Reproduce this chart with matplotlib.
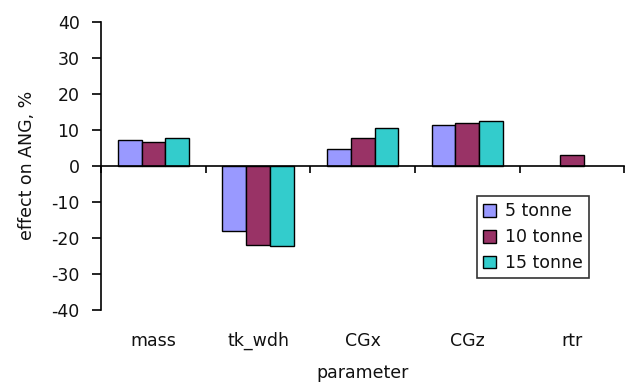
import numpy as np
import matplotlib
matplotlib.use("Agg")
import matplotlib.pyplot as plt
import matplotlib.transforms as mtransforms

# effect of each parameter on ANG, % (per truck mass); nan = no bar
params = ["mass", "tk_wdh", "CGx", "CGz", "rtr"]
series_names = ["5 tonne", "10 tonne", "15 tonne"]
t5 = [7.1, -18.2, 4.6, 11.4, np.nan]
t10 = [6.7, -22.1, 7.8, 11.8, 3.1]
t15 = [7.6, -22.4, 10.5, 12.5, np.nan]
colors = ["#9999FF", "#993366", "#33CCCC"]

plt.rcParams["font.family"] = ["DejaVu Sans"]
plt.rcParams["font.size"] = 12.5
plt.rcParams["axes.unicode_minus"] = False
plt.rcParams["text.color"] = "#111111"

fig = plt.figure(figsize=(6.28, 3.83), dpi=100)
ax = fig.add_axes([0.161, 0.191, 0.833, 0.752])

x = np.arange(len(params))
w = 0.227
for i, (vals, name, c) in enumerate(zip([t5, t10, t15], series_names, colors)):
    ax.bar(x + (i - 1) * w, vals, w, color=c, edgecolor="black", linewidth=1.0,
           label=name)

ax.set_xlim(-0.5, len(params) - 0.5)
ax.set_ylim(-40, 40)
ax.set_yticks(np.arange(-40, 41, 10))

# category axis sits on the zero line, ticks at group boundaries
ax.spines["bottom"].set_position(("data", 0))
ax.spines["top"].set_visible(False)
ax.spines["right"].set_visible(False)
ax.spines["left"].set_linewidth(1.2)
ax.spines["bottom"].set_linewidth(1.2)
ax.set_xticks(np.arange(-0.5, len(params), 1.0))
ax.set_xticklabels([])
ax.tick_params(axis="x", direction="out", length=5, width=1.2)
ax.tick_params(axis="y", direction="out", length=6.5, width=1.2, pad=9,
               labelcolor="#111111")

trans = mtransforms.blended_transform_factory(ax.transData, ax.transAxes)
for xi, p in zip(x, params):
    ax.text(xi, -0.108, p, transform=trans, ha="center", va="center")
ax.text(0.5, -0.218, "parameter", transform=ax.transAxes, ha="center", va="center")
ax.set_ylabel("effect on ANG, %", labelpad=11, color="#111111")

leg = ax.legend(loc="upper left", bbox_to_anchor=(0.719, 0.394), frameon=True,
                fancybox=False, edgecolor="black", handlelength=0.75,
                handleheight=0.75, handletextpad=0.5, borderpad=0.35,
                labelspacing=0.45, borderaxespad=0)
leg.get_frame().set_linewidth(1.2)

fig.savefig("out.png", dpi=100)
